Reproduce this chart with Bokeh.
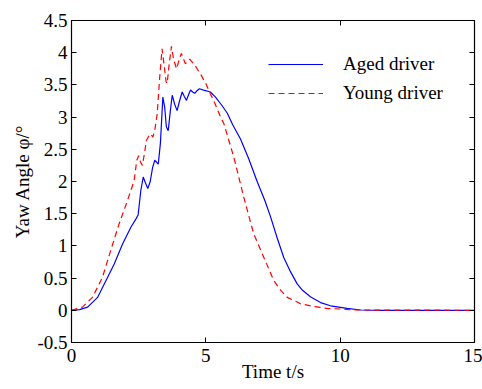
from bokeh.plotting import figure
from bokeh.models import (Range1d, FixedTicker, LinearAxis, Legend, LegendItem,
                          NumeralTickFormatter)
from bokeh.embed import file_html
from bokeh.resources import INLINE

# ---- data ----
time_aged = [0, 0.3, 0.6, 0.97, 1.28, 1.59, 1.90, 2.21, 2.40, 2.48, 2.58, 2.67, 2.75,
             2.84, 2.93, 3.02, 3.10, 3.23, 3.31, 3.40, 3.47, 3.53, 3.60, 3.68, 3.75,
             3.84, 3.93, 4.02, 4.12, 4.20, 4.28, 4.36, 4.43, 4.51, 4.59, 4.67, 4.76,
             4.92, 5.17, 5.36, 5.6, 5.8, 6.0, 6.29, 6.6, 6.91, 7.2, 7.41, 7.65, 7.90,
             8.15, 8.40, 8.6, 8.89, 9.27, 9.64, 10.26, 10.76, 11.5, 15]
yaw_aged = [0, 0.01, 0.05, 0.2, 0.46, 0.72, 1.03, 1.29, 1.42, 1.48, 1.86, 2.07, 1.98,
            1.89, 2.0, 2.22, 2.33, 2.27, 2.6, 3.31, 3.15, 2.85, 2.79, 3.1, 3.34,
            3.2, 3.10, 3.25, 3.39, 3.32, 3.26, 3.35, 3.42, 3.39, 3.37, 3.41, 3.44,
            3.42, 3.39, 3.31, 3.18, 3.06, 2.88, 2.66, 2.35, 2.0, 1.7, 1.45, 1.13, 0.82,
            0.6, 0.41, 0.31, 0.21, 0.12, 0.07, 0.03, 0.005, 0, 0]

time_young = [0, 0.41, 0.78, 1.15, 1.46, 1.77, 2.08, 2.33, 2.43, 2.50, 2.57, 2.64, 2.72,
              2.79, 2.87, 2.94, 3.03, 3.10, 3.19, 3.28, 3.37, 3.45, 3.52, 3.56, 3.63,
              3.72, 3.80, 3.91, 4.0, 4.09, 4.17, 4.24, 4.32, 4.40, 4.6, 4.8, 5.0, 5.17,
              5.30, 5.55, 5.67, 6.04, 6.41, 6.78, 7.16, 7.53, 7.79, 8.03, 8.40, 8.52,
              9.02, 9.5, 10.01, 10.5, 15]
yaw_young = [0, 0.05, 0.2, 0.51, 0.93, 1.34, 1.70, 2.01, 2.33, 2.40, 2.30, 2.25, 2.45,
             2.64, 2.7, 2.74, 2.69, 2.8, 3.05, 3.6, 4.06, 3.8, 3.55, 3.52, 3.8,
             4.10, 3.9, 3.75, 3.88, 3.99, 3.9, 3.83, 3.86, 3.90, 3.8, 3.67, 3.52, 3.36,
             3.25, 3.0, 2.9, 2.38, 1.76, 1.19, 0.82, 0.46, 0.31, 0.2, 0.13, 0.10,
             0.06, 0.03, 0.02, 0.005, 0]

x_ticks = [0, 5, 10, 15]
y_ticks = [-0.5, 0, 0.5, 1, 1.5, 2, 2.5, 3, 3.5, 4, 4.5]
series_labels = ["Aged driver", "Young driver"]
x_title = "Time t/s"
y_title = "Yaw Angle \u03c6/\u00b0"

FONT = "'Liberation Serif', 'Times New Roman', serif"
FS = "19px"

p = figure(width=482, height=389, output_backend="svg", toolbar_location=None,
           x_range=Range1d(0, 15), y_range=Range1d(-0.5, 4.5),
           min_border_left=71, min_border_top=20, min_border_right=8,
           min_border_bottom=47, x_axis_type=None, y_axis_type=None)
p.background_fill_color = "white"
p.border_fill_color = "white"
p.outline_line_color = "black"
p.outline_line_width = 1.2
p.xgrid.visible = False
p.ygrid.visible = False

def style_axis(ax, ticks, show_labels):
    ax.ticker = FixedTicker(ticks=ticks)
    ax.formatter = NumeralTickFormatter(format="0.[0]")
    ax.major_tick_in = 5
    ax.major_tick_out = 0
    ax.minor_tick_line_color = None
    ax.axis_line_color = "black"
    ax.major_tick_line_color = "black"
    ax.major_label_text_font = FONT
    ax.axis_label_text_font = FONT
    ax.axis_label_text_font_size = FS
    ax.axis_label_text_font_style = "normal"
    ax.axis_label_text_color = "black"
    if show_labels:
        ax.major_label_text_font_size = FS
        ax.major_label_text_color = "black"
    else:
        ax.major_label_text_font_size = "1px"
        ax.major_label_text_color = None
        ax.major_label_standoff = 0

xb = LinearAxis(axis_label=x_title)
style_axis(xb, x_ticks, True)
xb.major_label_standoff = 6
xb.axis_label_standoff = -4
p.add_layout(xb, "below")

yl = LinearAxis(axis_label=y_title)
style_axis(yl, y_ticks, True)
yl.major_label_standoff = 4
yl.axis_label_standoff = 1
p.add_layout(yl, "left")

xt = LinearAxis()
style_axis(xt, x_ticks, False)
p.add_layout(xt, "above")

yr = LinearAxis()
style_axis(yr, y_ticks, False)
p.add_layout(yr, "right")

r_aged = p.line(time_aged, yaw_aged, line_color="#0000FF", line_width=1.2)
r_young = p.line(time_young, yaw_young, line_color="#FF0000", line_width=1.2,
                 line_dash="6 4")

legend = Legend(items=[LegendItem(label=series_labels[0], renderers=[r_aged]),
                       LegendItem(label=series_labels[1], renderers=[r_young])],
                location=(197, 238))
legend.padding = 0
legend.margin = 0
legend.spacing = 7
legend.glyph_width = 55
legend.glyph_height = 20
legend.label_height = 20
legend.label_standoff = 20
legend.label_text_font = FONT
legend.label_text_font_size = FS
legend.label_text_color = "black"
legend.border_line_alpha = 0
legend.background_fill_alpha = 0
p.add_layout(legend, "center")

open("out.html", "w").write(file_html(p, INLINE))
